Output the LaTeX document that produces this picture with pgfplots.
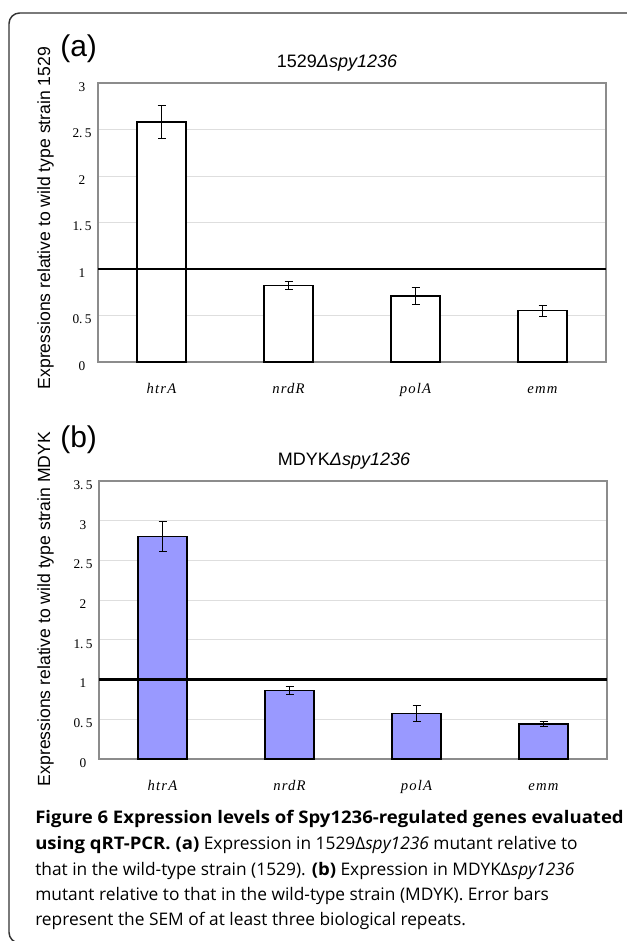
\documentclass[border=0pt]{standalone}
\usepackage{fontspec}
\usepackage{pgfplots}
\usepackage{pgfplotstable}
\pgfplotsset{compat=1.18}
\setmainfont{Liberation Sans}
\newfontfamily\capfont[BoldFeatures={FakeStretch=1.07}]{Open Sans}
\newfontfamily\numfont{Liberation Serif}
\newfontfamily\genefont[LetterSpace=8]{Liberation Serif}

\definecolor{barblue}{HTML}{9999FF}

% relative expression (mean, SEM) per gene
\pgfplotstableread{
x  y     e
0  2.58  0.18
1  0.82  0.045
2  0.71  0.09
3  0.55  0.06
}\dataA
\pgfplotstableread{
x  y     e
0  2.80  0.19
1  0.86  0.05
2  0.57  0.10
3  0.44  0.035
}\dataB

\pgfplotsset{
  panel/.style={
    scale only axis, width=381pt,
    xmin=-0.5, xmax=3.5, ymin=0,
    axis line style={draw=black!45, line width=0.8pt},
    ymajorgrids, grid style={draw=black!13, line width=0.6pt},
    xtick={0,1,2,3}, xticklabels={htrA,nrdR,polA,emm},
    xtick style={draw=none}, ytick style={draw=none},
    extra x ticks={0.5,1.5,2.5}, extra x tick labels={},
    extra x tick style={grid=none, tick align=inside, major tick length=3pt,
      tick style={draw=black!35, line width=0.5pt}},
    xticklabel style={font=\genefont\itshape\fontsize{11}{12}\selectfont, anchor=base, yshift=-23.25pt},
    yticklabel style={font=\numfont\fontsize{10}{11}\selectfont, anchor=center, xshift=-12pt, yshift=-3pt},
  },
  bars/.style={ybar, bar width=0.386, draw=black, line width=0.9pt,
    error bars/y dir=both, error bars/y explicit,
    error bars/error mark=-,
    error bars/error bar style={black, line width=0.75pt},
    error bars/error mark options={black, line width=0.75pt, mark size=3pt, rotate=90}},
  baseline/.style={black, line width=2.1pt, no marks},
}

\begin{document}
\begin{tikzpicture}
\useasboundingbox (0,0) rectangle (470.25pt,-705.75pt);

% panel (a)
\begin{axis}[panel, at={(73.5pt,-271.5pt)}, anchor=south west,
  height=209.25pt, ymax=3,
  ytick={0,0.5,1,1.5,2,2.5,3},
  yticklabels={0,0.\,5,1,1.\,5,2,2.\,5,3}]
\addplot[bars, fill=white] table[x=x, y=y, y error=e] {\dataA};
\addplot[baseline] coordinates {(-0.5,1) (3.5,1)};
\end{axis}

% panel (b)
\begin{axis}[panel, at={(74.25pt,-569.25pt)}, anchor=south west,
  height=208.5pt, ymax=3.5,
  ytick={0,0.5,1,1.5,2,2.5,3,3.5},
  yticklabels={0,0.\,5,1,1.\,5,2,2.\,5,3,3.\,5}]
\addplot[bars, fill=barblue] table[x=x, y=y, y error=e] {\dataB};
\addplot[baseline] coordinates {(-0.5,1) (3.5,1)};
\end{axis}

\begin{scope}[x=0.75pt, y=-0.75pt]
% figure frame
\draw[black!80, line width=1.1pt, rounded corners=8pt] (9,13) rectangle (660,943);

% panel letters, titles and axis titles
\node[anchor=base west, inner sep=0, font=\fontsize{22.5}{26}\selectfont] at (60,57) {(a)};
\node[anchor=base west, inner sep=0, font=\fontsize{22.5}{26}\selectfont] at (60,447) {(b)};
\node[anchor=base, inner sep=0, font=\fontsize{13.5}{16}\selectfont] at (337,68) {1529\textit{Δspy1236}};
\node[anchor=base, inner sep=0, font=\fontsize{13.5}{16}\selectfont] at (344,465) {MDYK\textit{Δspy1236}};
\node[rotate=90, anchor=base, inner sep=0, font=\fontsize{13.2}{16}\selectfont] at (50,218) {Expressions relative to wild type strain 1529};
\node[rotate=90, anchor=base, inner sep=0, font=\fontsize{13.2}{16}\selectfont] at (50,609) {Expressions relative to wild type strain MDYK};

% caption
\begin{scope}[every node/.style={anchor=base west, inner sep=0, font=\capfont\fontsize{13}{15}\selectfont}]
\node at (35,823) {\textbf{Figure 6 Expression levels of Spy1236-regulated genes evaluated}};
\node at (35,849) {\textbf{using qRT-PCR. (a)} Expression in 1529Δ\textit{spy1236} mutant relative to};
\node at (35,875) {that in the wild-type strain (1529). \textbf{(b)} Expression in MDYKΔ\textit{spy1236}};
\node at (35,900) {mutant relative to that in the wild-type strain (MDYK). Error bars};
\node at (35,925) {represent the SEM of at least three biological repeats.};
\end{scope}
\end{scope}
\end{tikzpicture}
\end{document}
